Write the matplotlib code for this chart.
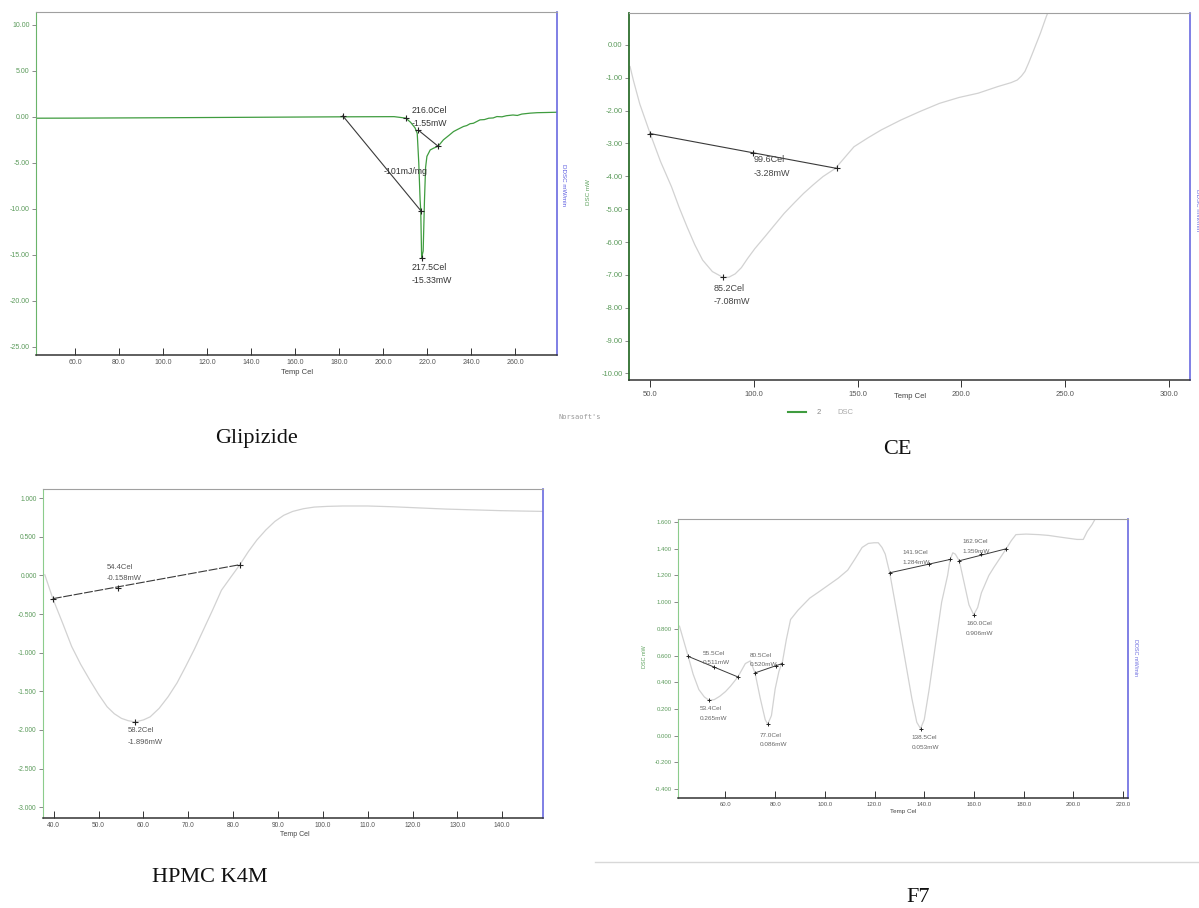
import matplotlib
matplotlib.use('Agg')
import matplotlib.pyplot as plt
from matplotlib.lines import Line2D

W, H = 1199, 908

# --- Glipizide ---
glip_t = [42, 60, 100, 140, 180, 205, 210.3, 212.5, 214.5, 215.5, 216.2, 216.8, 217.1, 217.5,
          218.2, 218.8, 219.3, 219.9, 221.4, 223, 225, 227.4, 230, 232, 234, 236.5, 238, 239.5,
          241, 244, 246, 248, 250, 251.7, 254, 256, 259, 261, 263, 266.8, 270, 274, 279]
glip_v = [-0.15, -0.14, -0.1, -0.05, 0.0, 0.02, -0.14, -0.6, -1.2, -1.8, -5.0, -9.0, -10.2, -15.33,
          -14.6, -9.0, -5.5, -4.3, -3.6, -3.4, -3.2, -2.5, -2.0, -1.6, -1.35, -1.05, -0.95, -0.75,
          -0.7, -0.33, -0.3, -0.15, -0.12, 0.03, 0.0, 0.12, 0.2, 0.15, 0.3, 0.4, 0.45, 0.47, 0.5]
glip_base_t = [[181.7, 217.1], [216.0, 225.0]]
glip_base_v = [[0.1, -10.2], [-1.45, -3.2]]
glip_pts_t = [181.7, 210.3, 216.0, 217.1, 217.5, 225.0]
glip_pts_v = [0.1, -0.14, -1.45, -10.2, -15.33, -3.2]
glip_xticks = [60, 80, 100, 120, 140, 160, 180, 200, 220, 240, 260]
glip_yticks = [10, 5, 0, -5, -10, -15, -20, -25]

# --- CE ---
ce_t = [40.3, 42, 45, 50, 55, 60.3, 64, 67.8, 71.5, 75.3, 80, 85.2, 88, 91, 94, 97, 100.5, 105.3,
        110, 114.6, 119.3, 124, 128.6, 133.3, 139.3, 143.8, 148.3, 155, 161.4, 170.8, 180, 189.5,
        199, 208.2, 217.6, 224, 227, 229, 230.7, 232.5, 234.4, 238.2, 241, 242.5]
ce_v = [-0.66, -1.1, -1.8, -2.7, -3.55, -4.32, -4.95, -5.54, -6.08, -6.55, -6.9, -7.08, -7.07,
        -6.97, -6.78, -6.5, -6.2, -5.84, -5.48, -5.13, -4.82, -4.52, -4.26, -4.01, -3.76, -3.43,
        -3.1, -2.83, -2.59, -2.29, -2.03, -1.78, -1.6, -1.47, -1.27, -1.15, -1.07, -0.95, -0.81,
        -0.55, -0.25, 0.36, 0.86, 1.1]
ce_base_t = [50.0, 140.0]
ce_base_v = [-2.7, -3.76]
ce_pts_t = [50.0, 99.6, 140.0, 85.2]
ce_pts_v = [-2.7, -3.28, -3.76, -7.08]
ce_xticks = [50, 100, 150, 200, 250, 300]
ce_yticks = [0, -1, -2, -3, -4, -5, -6, -7, -8, -9, -10]

# --- HPMC K4M ---
hpmc_t = [38.0, 39.8, 42, 44.0, 46, 48.0, 50, 51.9, 53.5, 55.1, 56.6, 58.2, 60, 61.5, 63.5, 65.5,
          67.5, 69.4, 71.4, 73.4, 75.4, 77.4, 79.5, 81.5, 83.4, 85.3, 87.3, 89.3, 91.3, 93.3, 95.7,
          98.1, 101, 104.4, 110, 115.6, 121.5, 127.5, 133.5, 139.4, 144, 149]
hpmc_v = [0.01, -0.30, -0.62, -0.92, -1.15, -1.35, -1.54, -1.70, -1.79, -1.85, -1.88, -1.896,
          -1.87, -1.83, -1.72, -1.57, -1.39, -1.18, -0.95, -0.70, -0.45, -0.19, -0.02, 0.14, 0.31,
          0.46, 0.59, 0.70, 0.78, 0.83, 0.865, 0.886, 0.895, 0.90, 0.90, 0.89, 0.875, 0.86, 0.85,
          0.84, 0.835, 0.83]
hpmc_base_t = [39.8, 81.5]
hpmc_base_v = [-0.30, 0.14]
hpmc_pts_t = [39.8, 54.4, 81.5, 58.2]
hpmc_pts_v = [-0.30, -0.158, 0.14, -1.896]
hpmc_xticks = [40, 50, 60, 70, 80, 90, 100, 110, 120, 130, 140]
hpmc_yticks = [1.0, 0.5, 0.0, -0.5, -1.0, -1.5, -2.0, -2.5, -3.0]

# --- F7 ---
f7_t = [41.5, 45.0, 47.0, 49.3, 51.5, 53.4, 55.5, 57.7, 60, 62, 65.0, 68, 70, 71.9, 74, 76, 77.0,
        78.5, 80, 81.5, 83, 84.5, 86.2, 89.2, 93.9, 97.8, 101.6, 105.4, 109.2, 112, 115, 117.5,
        119.8, 121.5, 123, 124.3, 126.1, 129, 132, 135, 137, 138.5, 140, 142, 144.6, 147, 149.4,
        150.4, 151.5, 152.5, 154.1, 156, 158, 159.9, 161.5, 163, 166, 168, 170.5, 173.0, 175,
        176.9, 181, 186.1, 190, 193.7, 197.5, 201.5, 204, 205.6, 207.5, 209, 210]
f7_v = [0.82, 0.594, 0.46, 0.345, 0.29, 0.265, 0.27, 0.295, 0.33, 0.37, 0.44, 0.54, 0.56, 0.47,
        0.28, 0.12, 0.086, 0.15, 0.35, 0.48, 0.56, 0.72, 0.87, 0.94, 1.03, 1.08, 1.13, 1.18, 1.24,
        1.32, 1.41, 1.44, 1.445, 1.445, 1.41, 1.36, 1.22, 0.92, 0.6, 0.28, 0.1, 0.053, 0.12, 0.35,
        0.69, 1.0, 1.2, 1.32, 1.37, 1.36, 1.31, 1.15, 0.98, 0.906, 0.96, 1.07, 1.2, 1.26, 1.33,
        1.40, 1.46, 1.506, 1.51, 1.506, 1.5, 1.49, 1.48, 1.47, 1.47, 1.53, 1.58, 1.63, 1.66]
f7_base_t = [[45.0, 65.0], [71.9, 82.8], [126.1, 150.4], [154.1, 173.0]]
f7_base_v = [[0.594, 0.44], [0.47, 0.54], [1.22, 1.32], [1.31, 1.40]]
f7_pts_t = [45.0, 55.5, 65.0, 71.9, 80.5, 82.8, 126.1, 141.9, 150.4, 154.1, 162.9, 173.0,
            53.4, 77.0, 138.5, 160.0]
f7_pts_v = [0.594, 0.511, 0.44, 0.47, 0.52, 0.54, 1.22, 1.284, 1.32, 1.31, 1.359, 1.40,
            0.265, 0.086, 0.053, 0.906]
f7_xticks = [60, 80, 100, 120, 140, 160, 180, 200, 220]
f7_yticks = [1.6, 1.4, 1.2, 1.0, 0.8, 0.6, 0.4, 0.2, 0.0, -0.2, -0.4]

SANS = ['Liberation Sans', 'DejaVu Sans']
SERIF = ['Liberation Serif', 'DejaVu Serif']
CURVE_GREY = '#d2d2d2'
BASE = '#3a3a3a'

fig = plt.figure(figsize=(W / 100, H / 100), dpi=100)


def px_axes(left, top, right, bottom):
    return fig.add_axes([left / W, 1 - bottom / H, (right - left) / W, (bottom - top) / H])


def ftext(x, y, s, **kw):
    fig.text(x / W, 1 - y / H, s, **kw)


def style(ax, xt, xfmt, yt, yfmt, xlim, ylim, fs, left_col, xdir='in'):
    ax.set_xlim(*xlim)
    ax.set_ylim(*ylim)
    ax.set_xticks(xt)
    ax.set_xticklabels([xfmt % v for v in xt], family=SANS, fontsize=fs, color='#555555')
    ax.set_yticks(yt)
    ax.set_yticklabels([yfmt % v for v in yt], family=SANS, fontsize=fs, color='#5a9a5a')
    ax.tick_params(axis='x', direction=xdir, length=5, width=0.7, color='#333333', pad=3)
    ax.tick_params(axis='y', direction='out', length=3, width=0.6, color='#777777', pad=1.5)
    ax.spines['top'].set_color('#a0a0a0')
    ax.spines['right'].set_color('#6a6ae0')
    ax.spines['right'].set_linewidth(1.2)
    ax.spines['left'].set_color(left_col)
    ax.spines['bottom'].set_color('#333333')
    ax.spines['bottom'].set_linewidth(1.1)


# Glipizide
ax1 = px_axes(36, 12, 557, 355)
ax1.plot(glip_t, glip_v, color='#3f9c3f', lw=0.9)
for bt, bv in zip(glip_base_t, glip_base_v):
    ax1.plot(bt, bv, color=BASE, lw=0.8)
ax1.plot(glip_pts_t, glip_pts_v, '+', color='#222222', ms=4, mew=0.8)
ax1.text(213, 0.7, '216.0Cel', family=SANS, fontsize=6.3, color='#333333', va='center')
ax1.text(213, -0.7, '-1.55mW', family=SANS, fontsize=6.3, color='#333333', va='center')
ax1.text(210, -5.9, '-101mJ/mg', family=SANS, fontsize=6.3, color='#333333', va='center', ha='center')
ax1.text(213, -16.4, '217.5Cel', family=SANS, fontsize=6.3, color='#333333', va='center')
ax1.text(213, -17.75, '-15.33mW', family=SANS, fontsize=6.3, color='#333333', va='center')
style(ax1, glip_xticks, '%.1f', glip_yticks, '%.2f', (42.3, 279), (-25.9, 11.4), 5, '#6ab46a')
ftext(297, 373, 'Temp Cel', family=SANS, fontsize=5.5, color='#444444', ha='center', va='center')
ftext(564, 185, 'DDSC mW/min', family=SANS, fontsize=4.5, color='#5a5ae0', rotation=270,
      ha='center', va='center')
ftext(588, 192, 'DSC mW', family=SANS, fontsize=4.5, color='#5aa05a', rotation=90,
      ha='center', va='center')
ftext(257, 438, 'Glipizide', family=SERIF, fontsize=16, color='#111111', ha='center', va='center')

# CE
ax2 = px_axes(629, 13, 1190, 380)
ax2.plot(ce_t, ce_v, color=CURVE_GREY, lw=0.9)
ax2.plot(ce_base_t, ce_base_v, color=BASE, lw=0.8)
ax2.plot(ce_pts_t, ce_pts_v, '+', color='#222222', ms=4, mew=0.8)
ax2.text(99.8, -3.5, '99.6Cel', family=SANS, fontsize=6.5, color='#444444', va='center')
ax2.text(99.8, -3.92, '-3.28mW', family=SANS, fontsize=6.5, color='#444444', va='center')
ax2.text(80.5, -7.42, '85.2Cel', family=SANS, fontsize=6.5, color='#444444', va='center')
ax2.text(80.5, -7.82, '-7.08mW', family=SANS, fontsize=6.5, color='#444444', va='center')
style(ax2, ce_xticks, '%.1f', ce_yticks, '%.2f', (39.8, 310.3), (-10.2, 0.97), 5.5, '#2e6e2e',
      xdir='out')
ax2.spines['left'].set_linewidth(1.3)
ftext(910, 397, 'Temp Cel', family=SANS, fontsize=5.5, color='#444444', ha='center', va='center')
ftext(1197, 210, 'DDSC mW/min', family=SANS, fontsize=4.5, color='#6a6ae0', rotation=270,
      ha='center', va='center')
fig.add_artist(Line2D([788 / W, 806 / W], [1 - 412 / H] * 2, color='#3f9c3f', lw=1.5))
ftext(819, 412, '2', family=SANS, fontsize=5.5, color='#888888', ha='center', va='center')
ftext(845, 412, 'DSC', family=SANS, fontsize=5.5, color='#aaaaaa', ha='center', va='center')
ftext(580, 417, 'Norsaoft\'s', family='DejaVu Sans Mono', fontsize=5, color='#999999',
      ha='center', va='center')
ftext(897, 450, 'CE', family=SERIF, fontsize=16, color='#111111', ha='center', va='center')

# HPMC K4M
ax3 = px_axes(43, 489, 543, 818)
ax3.plot(hpmc_t, hpmc_v, color=CURVE_GREY, lw=0.9)
ax3.plot(hpmc_base_t, hpmc_base_v, color=BASE, lw=0.8, dashes=(8, 1.5))
ax3.plot(hpmc_pts_t, hpmc_pts_v, '+', color='#222222', ms=4, mew=0.8)
ax3.text(51.9, 0.1, '54.4Cel', family=SANS, fontsize=5.5, color='#555555', va='center')
ax3.text(51.9, -0.04, '-0.158mW', family=SANS, fontsize=5.5, color='#555555', va='center')
ax3.text(56.5, -2.01, '58.2Cel', family=SANS, fontsize=5.5, color='#555555', va='center')
ax3.text(56.5, -2.16, '-1.896mW', family=SANS, fontsize=5.5, color='#555555', va='center')
style(ax3, hpmc_xticks, '%.1f', hpmc_yticks, '%.3f', (37.6, 149.1), (-3.14, 1.12), 4.8, '#8ccc8c')
ftext(295, 835, 'Temp Cel', family=SANS, fontsize=5, color='#444444', ha='center', va='center')
ftext(210, 878, 'HPMC K4M', family=SERIF, fontsize=16, color='#111111', ha='center', va='center')

# F7
ax4 = px_axes(678, 519, 1128, 798)
ax4.plot(f7_t, f7_v, color=CURVE_GREY, lw=0.9)
for bt, bv in zip(f7_base_t, f7_base_v):
    ax4.plot(bt, bv, color=BASE, lw=0.7)
ax4.plot(f7_pts_t, f7_pts_v, '+', color='#222222', ms=3.5, mew=0.7)
f7_labels = [(50.8, 0.614, '55.5Cel'), (50.8, 0.545, '0.511mW'),
             (69.6, 0.600, '80.5Cel'), (69.6, 0.530, '0.520mW'),
             (49.6, 0.207, '53.4Cel'), (49.6, 0.132, '0.265mW'),
             (73.9, 0.000, '77.0Cel'), (73.9, -0.067, '0.086mW'),
             (135.0, -0.017, '138.5Cel'), (135.0, -0.088, '0.053mW'),
             (131.2, 1.373, '141.9Cel'), (131.2, 1.298, '1.284mW'),
             (155.3, 1.451, '162.9Cel'), (155.3, 1.376, '1.359mW'),
             (156.9, 0.839, '160.0Cel'), (156.9, 0.769, '0.906mW')]
for x, y, s in f7_labels:
    ax4.text(x, y, s, family=SANS, fontsize=4.6, color='#666666', va='center')
style(ax4, f7_xticks, '%.1f', f7_yticks, '%.3f', (40.9, 222), (-0.467, 1.623), 4.3, '#8ccc8c')
ftext(903, 811, 'Temp Cel', family=SANS, fontsize=4.5, color='#444444', ha='center', va='center')
ftext(645, 657, 'DSC mW', family=SANS, fontsize=4, color='#5aa05a', rotation=90,
      ha='center', va='center')
ftext(1135, 658, 'DDSC mW/min', family=SANS, fontsize=4, color='#6a6ae0', rotation=270,
      ha='center', va='center')
fig.add_artist(Line2D([595 / W, 1.0], [1 - 862 / H] * 2, color='#d8d8d8', lw=1.0))
ftext(918, 898, 'F7', family=SERIF, fontsize=16, color='#111111', ha='center', va='center')

fig.savefig('out.png', dpi=100, facecolor='white')
